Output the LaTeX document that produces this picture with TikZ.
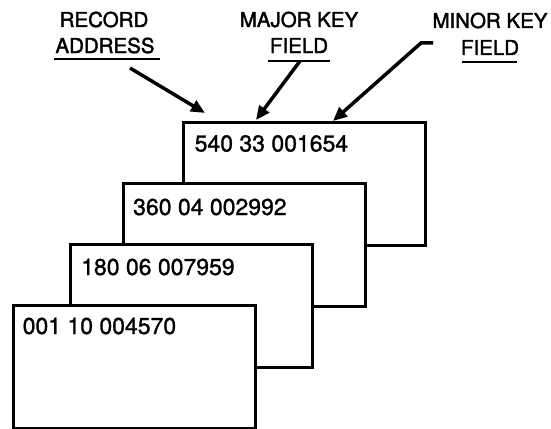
\documentclass[tikz,border=0pt]{standalone}
\usepackage{fontspec}
\setmainfont{TeX Gyre Heros}
\newfontfamily\numfont[FakeBold=1.2]{TeX Gyre Heros}
\newfontfamily\labfont[FakeBold=2]{TeX Gyre Heros}
\usetikzlibrary{arrows.meta}
\begin{document}
\begin{tikzpicture}[x=1pt,y=-1pt,
  card/.style={draw, line width=3pt, fill=white, minimum width=242pt, minimum height=123pt, anchor=north west, inner sep=0pt, outer sep=0pt},
  num/.style={anchor=base west, inner sep=0pt, font=\numfont\fontsize{23}{27}\selectfont},
  lab/.style={anchor=base, inner sep=0pt, font=\labfont\fontsize{20.5}{25}\selectfont},
  uline/.style={line width=2pt},
  arr/.style={line width=3.5pt, -{Triangle[length=14pt,width=12pt]}}]
\useasboundingbox (0,0) rectangle (551,428);
% cards, back to front
\node[card] (c4) at (183,122.5) {};
\node[num] (t4) at (194.5,151.5) {540 33 001654};
\node[card] (c3) at (123,183) {};
\node[num] (t3) at (133,215) {360 04 002992};
\node[card] (c2) at (70.5,244.5) {};
\node[num] (t2) at (81,275) {180 06 007959};
\node[card] (c1) at (13,305) {};
\node[num] (t1) at (22.5,334) {001 10 004570};
% labels
\node[lab] (l1a) at (104,27) {RECORD};
\node[lab] (l1b) at (105,53) {ADDRESS};
\node[lab] (l2a) at (299,27) {MAJOR KEY};
\node[lab] (l2b) at (299,53) {FIELD};
\node[lab] (l3a) at (490,28) {MINOR KEY};
\node[lab] (l3b) at (490,55) {FIELD};
\draw[uline] (54,59.5) -- (160,59.5);
\draw[uline] (268,61) -- (330,61);
\draw[uline] (462,62) -- (517,62);
% arrows
\coordinate (a1s) at (130,68);
\coordinate (a1e) at (205,113);
\coordinate (a2s) at (300,61);
\coordinate (a2e) at (256,120);
\coordinate (a3s) at (433,43);
\coordinate (a3k) at (421,43);
\coordinate (a3e) at (333,121);
\draw[arr] (a1s) -- (a1e);
\draw[arr] (a2s) -- (a2e);
\draw[arr] (a3s) -- (a3k) -- (a3e);
\end{tikzpicture}
\end{document}
